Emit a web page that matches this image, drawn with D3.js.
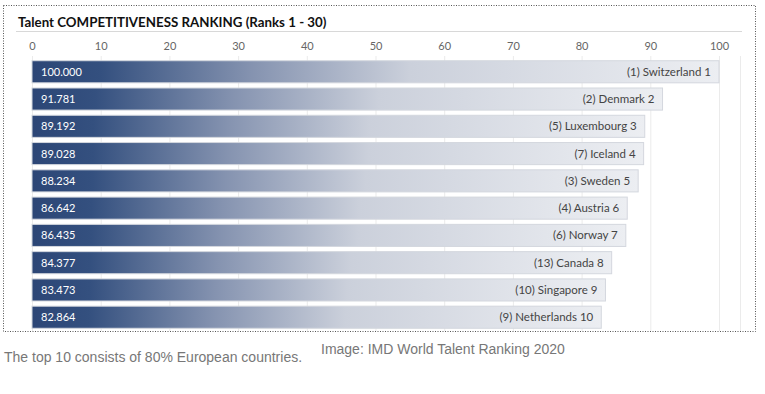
<!DOCTYPE html>
<html lang="en">
<head>
<meta charset="utf-8">
<title>Talent Competitiveness Ranking</title>
<script src="https://cdn.jsdelivr.net/npm/d3@7"></script>
<style>
  body { margin: 0; background: #fff; }
  svg { display: block; }
</style>
</head>
<body>
<script>
  var countries = ["Switzerland", "Denmark", "Luxembourg", "Iceland", "Sweden",
                   "Austria", "Norway", "Canada", "Singapore", "Netherlands"];
  var scores = [100.000, 91.781, 89.192, 89.028, 88.234, 86.642, 86.435, 84.377, 83.473, 82.864];
  var prevRanks = [1, 2, 5, 7, 3, 4, 6, 13, 10, 9];
  var ranks = [1, 2, 3, 4, 5, 6, 7, 8, 9, 10];
  var ticks = [0, 10, 20, 30, 40, 50, 60, 70, 80, 90, 100];

  var width = 765, height = 394;
  var chartFont = "Lato, 'Open Sans', sans-serif";

  var svg = d3.select("body").append("svg")
    .attr("width", width)
    .attr("height", height);

  var defs = svg.append("defs");
  var grad = defs.append("linearGradient")
    .attr("id", "barGrad")
    .attr("x1", "0%").attr("x2", "100%")
    .attr("y1", "0%").attr("y2", "0%");
  grad.append("stop").attr("offset", "0%").attr("stop-color", "#2c4676");
  grad.append("stop").attr("offset", "10%").attr("stop-color", "#34507f");
  grad.append("stop").attr("offset", "32%").attr("stop-color", "#8593b0");
  grad.append("stop").attr("offset", "55%").attr("stop-color", "#cbd0db");
  grad.append("stop").attr("offset", "100%").attr("stop-color", "#eceef2");

  // dotted frame
  svg.append("rect")
    .attr("x", 3.5).attr("y", 5.5)
    .attr("width", 752).attr("height", 326)
    .attr("fill", "none")
    .attr("stroke", "#555")
    .attr("stroke-width", 1)
    .attr("stroke-dasharray", "1,1.5");

  svg.append("text")
    .attr("x", 18).attr("y", 27)
    .style("font-family", chartFont)
    .style("font-weight", "bold")
    .style("font-size", "13.3px")
    .attr("fill", "#111")
    .text("Talent COMPETITIVENESS RANKING (Ranks 1 - 30)");

  svg.append("line")
    .attr("x1", 16).attr("x2", 742)
    .attr("y1", 31.5).attr("y2", 31.5)
    .attr("stroke", "#d8d8d8");

  var x = d3.scaleLinear().domain([0, 100]).range([32, 719]);
  var y = d3.scaleBand().domain(ranks).range([58, 331]).paddingInner(0.19).paddingOuter(0.1);

  // gridlines
  svg.append("g").selectAll("line")
    .data(ticks)
    .join("line")
    .attr("x1", function(d) { return x(d) + 0.5; })
    .attr("x2", function(d) { return x(d) + 0.5; })
    .attr("y1", 56).attr("y2", 331)
    .attr("stroke", "#ebebeb");

  svg.append("line")
    .attr("x1", 740.5).attr("x2", 740.5)
    .attr("y1", 56).attr("y2", 331)
    .attr("stroke", "#ebebeb");

  var xAxis = d3.axisTop(x).tickValues(ticks).tickSize(0).tickPadding(0);
  var axisG = svg.append("g")
    .attr("transform", "translate(0,50)")
    .call(xAxis);
  axisG.select(".domain").remove();
  axisG.selectAll("text")
    .style("font-family", chartFont)
    .style("font-size", "11px")
    .attr("fill", "#666");

  var rows = svg.append("g").selectAll("g")
    .data(scores)
    .join("g");

  rows.append("rect")
    .attr("x", x(0))
    .attr("y", function(d, i) { return y(ranks[i]); })
    .attr("width", function(d) { return x(d) - x(0); })
    .attr("height", y.bandwidth())
    .attr("fill", "url(#barGrad)")
    .attr("stroke", "#d4d7de")
    .attr("stroke-width", 1);

  rows.append("text")
    .attr("x", x(0) + 9)
    .attr("y", function(d, i) { return y(ranks[i]) + y.bandwidth() / 2 + 4; })
    .style("font-family", chartFont)
    .style("font-size", "11px")
    .attr("fill", "#fff")
    .text(function(d) { return d3.format(".3f")(d); });

  rows.append("text")
    .attr("x", function(d) { return x(d) - 8; })
    .attr("y", function(d, i) { return y(ranks[i]) + y.bandwidth() / 2 + 4; })
    .attr("text-anchor", "end")
    .style("font-family", chartFont)
    .style("font-size", "11.5px")
    .attr("fill", "#444")
    .text(function(d, i) { return "(" + prevRanks[i] + ") " + countries[i] + " " + ranks[i]; });

  svg.append("text")
    .attr("x", 4).attr("y", 362)
    .style("font-family", "Arial, 'Liberation Sans', sans-serif")
    .style("font-size", "14px")
    .attr("fill", "#777")
    .text("The top 10 consists of 80% European countries.");

  svg.append("text")
    .attr("x", 321).attr("y", 354)
    .style("font-family", "Arial, 'Liberation Sans', sans-serif")
    .style("font-size", "14px")
    .attr("fill", "#777")
    .text("Image: IMD World Talent Ranking 2020");
</script>
</body>
</html>
